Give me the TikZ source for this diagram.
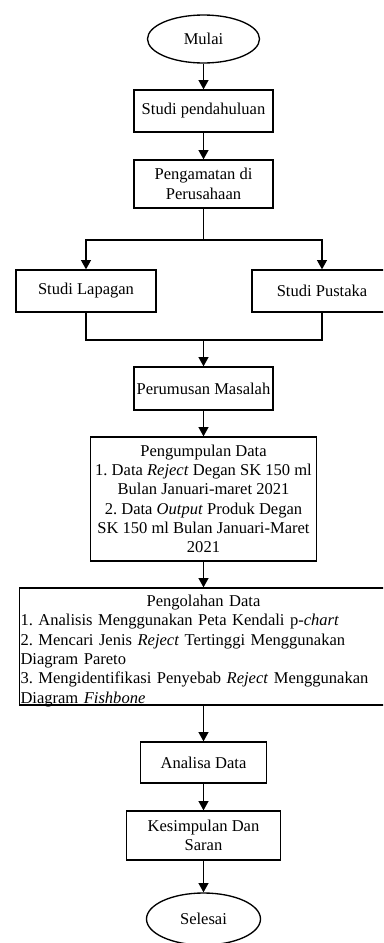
\documentclass[tikz,border=0pt]{standalone}
\usepackage{fontspec}
\setmainfont{Liberation Serif}
\usetikzlibrary{arrows.meta,shapes.geometric}
\frenchspacing
\begin{document}
\begin{tikzpicture}[x=0.75pt,y=-0.75pt,
  every node/.style={font=\fontsize{12.4}{14.5}\selectfont, inner sep=0pt},
  box/.style={draw, line width=1pt, align=center},
  term/.style={draw, ellipse, line width=1pt},
  flow/.style={-{Triangle[length=7pt,width=7.5pt]}, line width=1pt},
  link/.style={line width=1pt}]
\useasboundingbox (0,0) rectangle (383,943);
\clip (0,0) rectangle (383,943);

% start
\node[term, minimum width=112*0.75pt, minimum height=48*0.75pt] (mulai) at (203.5,39) {Mulai};

% preliminary steps
\node[box, minimum width=139*0.75pt, minimum height=42*0.75pt] (studi) at (203.5,111) {Studi pendahuluan};
\node[box, minimum width=139*0.75pt, minimum height=48*0.75pt] (amat) at (203.5,184) {Pengamatan di\\Perusahaan};

% branch into field and literature study
\coordinate (split) at (203.5,240);
\node[box, minimum width=140*0.75pt, minimum height=42*0.75pt] (lap) at (86,291) {Studi Lapagan};
\node[box, minimum width=140*0.75pt, minimum height=42*0.75pt] (pus) at (322,291) {Studi Pustaka};
\coordinate (join) at (203.5,340);

% problem statement and data
\node[box, minimum width=139*0.75pt, minimum height=43*0.75pt] (rumus) at (203.5,388.5) {Perumusan Masalah};
\node[box, minimum width=226*0.75pt, minimum height=124*0.75pt] (kumpul) at (203.5,499) {Pengumpulan Data\\
  1. Data \textit{Reject} Degan SK 150 ml\\
  Bulan Januari-maret 2021\\
  2. Data \textit{Output} Produk Degan\\
  SK 150 ml Bulan Januari-Maret\\
  2021};

% processing box with its text block set a little low in the frame
\node[box, minimum width=368*0.75pt, minimum height=117*0.75pt] (olah) at (203.5,646.5) {};
\node[align=left, text width=366*0.75pt] (olahteks) at (203.5,651) {\makebox[\linewidth]{Pengolahan Data}\\
  1. Analisis Menggunakan Peta Kendali p-\textit{chart}\\
  2. Mencari Jenis \textit{Reject} Tertinggi Menggunakan\\
  Diagram Pareto\\
  3. Mengidentifikasi Penyebab \textit{Reject} Menggunakan\\
  Diagram \textit{Fishbone}};

% analysis and conclusion
\node[box, minimum width=126*0.75pt, minimum height=41*0.75pt] (analisa) at (203.5,762.5) {Analisa Data};
\node[box, minimum width=154*0.75pt, minimum height=49*0.75pt] (simpul) at (203.5,835.5) {Kesimpulan Dan\\Saran};

% end
\node[term, minimum width=114*0.75pt, minimum height=52*0.75pt] (selesai) at (203.5,919) {Selesai};

% connectors
\draw[flow] (mulai) -- (studi);
\draw[flow] (studi) -- (amat);
\draw[link] (amat) -- (split);
\draw[flow] (split) -| (lap);
\draw[flow] (split) -| (pus);
\draw[link] (lap) |- (join) -| (pus);
\draw[flow] (join) -- (rumus);
\draw[flow] (rumus) -- (kumpul);
\draw[flow] (kumpul) -- (olah);
\draw[flow] (olah) -- (analisa);
\draw[flow] (analisa) -- (simpul);
\draw[flow] (simpul) -- (selesai);
\end{tikzpicture}
\end{document}
